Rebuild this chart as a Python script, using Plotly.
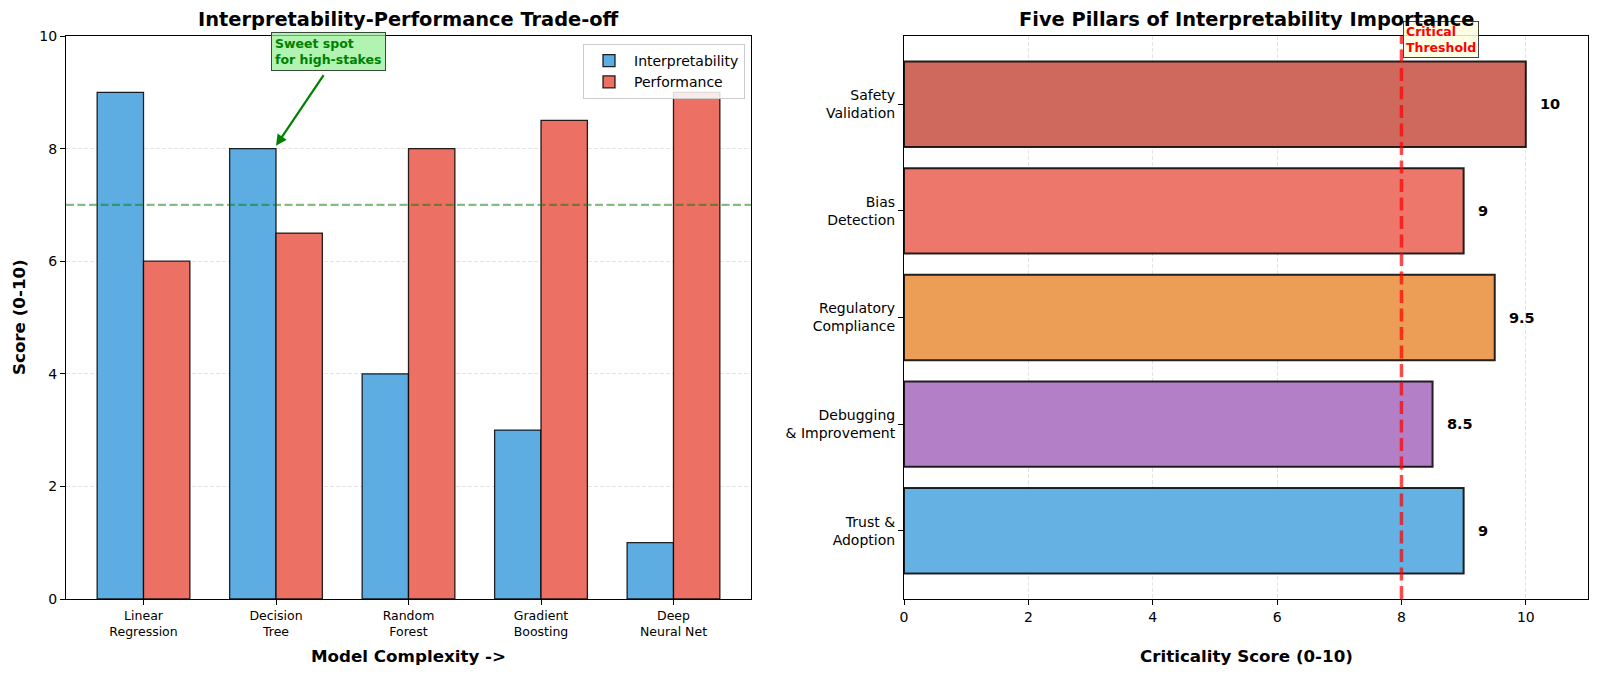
import plotly.graph_objects as go

# ---------------- data ----------------
models = ["Linear<br>Regression", "Decision<br>Tree", "Random<br>Forest",
          "Gradient<br>Boosting", "Deep<br>Neural Net"]
interpretability = [9, 8, 4, 3, 1]
performance = [6, 6.5, 8, 8.5, 9]
sweet_spot_level = 7
sweet_spot_model = 1
sweet_spot_score = 8

pillars = ["Trust &<br>Adoption", "Debugging<br>& Improvement", "Regulatory<br>Compliance",
           "Bias<br>Detection", "Safety<br>Validation"]
criticality = [9, 8.5, 9.5, 9, 10]
pillar_colors = ["#5DADE2", "#AF7AC5", "#EB984E", "#EC7063", "#CD6155"]
threshold = 8

FONT = "DejaVu Sans"
W, H = 1600, 676

# plot areas in pixels
L1, R1 = 66, 751
L2, R2 = 904, 1588
TOP, BOT = 36, 599

def px(x):
    return x / W

def py(y):
    return 1 - y / H

xpos = list(range(len(models)))
ypos = list(range(len(pillars)))

fig = go.Figure()

fig.add_trace(go.Bar(
    x=xpos, y=interpretability, name="Interpretability",
    width=0.35, offset=-0.35,
    marker=dict(color="#5DADE2", line=dict(color="rgba(0,0,0,0.85)", width=1.3)),
    xaxis="x", yaxis="y",
))
fig.add_trace(go.Bar(
    x=xpos, y=performance, name="Performance",
    width=0.35, offset=0,
    marker=dict(color="#EC7063", line=dict(color="rgba(0,0,0,0.85)", width=1.3)),
    xaxis="x", yaxis="y",
))
fig.add_trace(go.Bar(
    x=criticality, y=ypos, orientation="h", showlegend=False,
    width=0.8, offset=-0.4,
    marker=dict(color=pillar_colors, opacity=0.95,
                line=dict(color="rgba(0,0,0,0.9)", width=2)),
    xaxis="x2", yaxis="y2",
))

tickfont = dict(family=FONT, size=14, color="black")
axis_common = dict(showline=True, mirror=True, linecolor="black", linewidth=1.1,
                   ticks="outside", ticklen=5, tickwidth=1.1, tickcolor="black",
                   zeroline=False, automargin=False)
grid = dict(gridcolor="#e4e4e4", gridwidth=1, griddash="4px,2px")

fig.update_layout(
    width=W, height=H, autosize=False,
    margin=dict(l=0, r=0, t=0, b=0, autoexpand=False),
    paper_bgcolor="white", plot_bgcolor="white",
    barmode="overlay",
    font=dict(family=FONT, color="black"),
    xaxis=dict(domain=[px(L1), px(R1)], anchor="y", range=[-0.585, 4.585],
               tickmode="array", tickvals=xpos, ticktext=models,
               tickfont=dict(family=FONT, size=12.5, color="black"),
               showgrid=False, **axis_common),
    yaxis=dict(domain=[py(BOT), py(TOP)], anchor="x", range=[0, 10],
               tickmode="array", tickvals=[0, 2, 4, 6, 8, 10],
               tickfont=tickfont, showgrid=True, **grid, **axis_common),
    xaxis2=dict(domain=[px(L2), px(R2)], anchor="y2", range=[0, 11],
                tickmode="array", tickvals=[0, 2, 4, 6, 8, 10],
                tickfont=tickfont, showgrid=True, **grid, **axis_common),
    yaxis2=dict(domain=[py(BOT), py(TOP)], anchor="x2", range=[-0.64, 4.64],
                tickmode="array", tickvals=ypos, ticktext=pillars,
                tickfont=tickfont, showgrid=False, **axis_common),
    legend=dict(x=px(745), xanchor="right", y=py(44), yanchor="top",
                bgcolor="rgba(255,255,255,0.85)", bordercolor="#cccccc",
                borderwidth=1, font=dict(family=FONT, size=14, color="black"),
                itemwidth=40),
)

# reference lines
fig.add_shape(type="line", xref="x domain", yref="y", x0=0, x1=1,
              y0=sweet_spot_level, y1=sweet_spot_level, layer="above",
              line=dict(color="rgba(0,128,0,0.5)", width=2.1, dash="8px,3.5px"))
fig.add_shape(type="line", xref="x2", yref="y2 domain", x0=threshold, x1=threshold,
              y0=0, y1=1, layer="above",
              line=dict(color="rgba(255,0,0,0.7)", width=3.5, dash="13px,5.5px"))

annotations = []
# arrow for sweet spot
annotations.append(dict(
    xref="x", yref="y", x=sweet_spot_model, y=sweet_spot_score + 0.05,
    axref="x", ayref="y", ax=1.367, ay=9.33, text="", showarrow=True,
    arrowhead=2, arrowsize=1, arrowwidth=2.2, arrowcolor="green"))
annotations.append(dict(
    xref="x", yref="y", x=0.963, y=9.72, xanchor="left", yanchor="middle",
    text="<b>Sweet spot<br>for high-stakes</b>", align="left", showarrow=False,
    font=dict(family=FONT, size=12.5, color="green"),
    bgcolor="rgba(144,238,144,0.7)", bordercolor="#3a4a3a", borderwidth=1, borderpad=3))

# value labels
for v, yy in zip(criticality, ypos):
    annotations.append(dict(
        xref="x2", yref="y2", x=v + 0.2, y=yy, xanchor="left", yanchor="middle",
        text=f"<b>{v:g}</b>", showarrow=False,
        font=dict(family=FONT, size=14.5, color="black")))

# threshold label
annotations.append(dict(
    xref="x2", yref="y2", x=8.02, y=4.607, xanchor="left", yanchor="middle",
    text="<b>Critical<br>Threshold</b>", align="left", showarrow=False,
    font=dict(family=FONT, size=12.5, color="red"),
    bgcolor="rgba(255,255,224,0.85)", bordercolor="#444", borderwidth=1, borderpad=2))

# titles
annotations.append(dict(
    xref="paper", yref="paper", x=px((L1 + R1) / 2), y=py(19.5), xanchor="center",
    yanchor="middle", showarrow=False,
    text="<b>Interpretability-Performance Trade-off</b>",
    font=dict(family=FONT, size=19.4, color="black")))
annotations.append(dict(
    xref="paper", yref="paper", x=px((L2 + R2) / 2), y=py(19.5), xanchor="center",
    yanchor="middle", showarrow=False,
    text="<b>Five Pillars of Interpretability Importance</b>",
    font=dict(family=FONT, size=19.4, color="black")))
annotations.append(dict(
    xref="paper", yref="paper", x=px((L1 + R1) / 2), y=py(656), xanchor="center",
    yanchor="middle", showarrow=False, text="<b>Model Complexity -&gt;</b>",
    font=dict(family=FONT, size=16.7, color="black")))
annotations.append(dict(
    xref="paper", yref="paper", x=px((L2 + R2) / 2), y=py(656), xanchor="center",
    yanchor="middle", showarrow=False, text="<b>Criticality Score (0-10)</b>",
    font=dict(family=FONT, size=16.7, color="black")))
annotations.append(dict(
    xref="paper", yref="paper", x=px(18.5), y=py((TOP + BOT) / 2), xanchor="center",
    yanchor="middle", showarrow=False, textangle=-90, text="<b>Score (0-10)</b>",
    font=dict(family=FONT, size=16.7, color="black")))

fig.update_layout(annotations=annotations)

fig.write_html("out.html")
